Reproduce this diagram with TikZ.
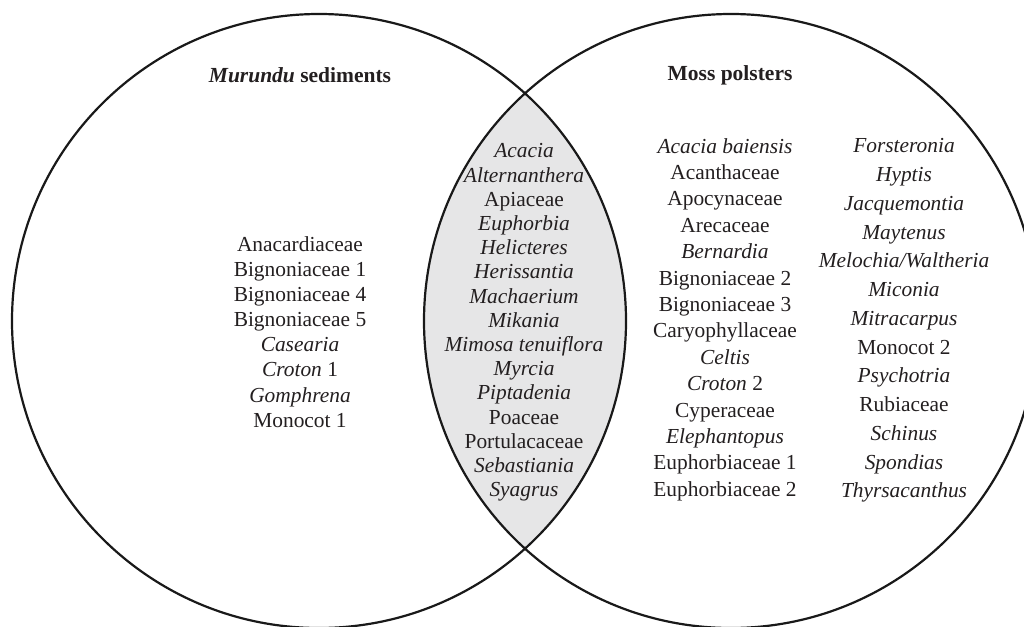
\documentclass[tikz,border=0pt]{standalone}
\usepackage{fontspec}
\setmainfont{Liberation Serif}
\definecolor{lensgray}{HTML}{E6E6E7}
\definecolor{ink}{HTML}{231F20}
\tikzset{
  ring/.style={draw=black!90, line width=2.2pt},
  listtext/.style={align=center, text=ink, inner sep=0pt},
  titletext/.style={text=ink, inner sep=0pt, font=\fontsize{21.5}{24}\selectfont\bfseries}
}
\begin{document}
\begin{tikzpicture}[x=1pt,y=-1pt]
\useasboundingbox (0,0) rectangle (1024,626);
\fill[white] (0,0) rectangle (1024,626);
\begin{scope}
  \clip (0,0) rectangle (1024,626);
  \begin{scope}
    \clip (319,321) circle (307pt);
    \fill[lensgray] (731,321) circle (307pt);
  \end{scope}
  \draw[ring] (319,321) circle (307pt);
  \draw[ring] (731,321) circle (307pt);
\end{scope}

\node[titletext] (titleL) at (300,75) {\textit{Murundu} sediments};
\node[titletext] (titleR) at (730,75) {Moss polsters};

\node[listtext, font=\fontsize{21.4}{25.1}\selectfont] (leftlist) at (300,332) {
Anacardiaceae\\ Bignoniaceae 1\\ Bignoniaceae 4\\ Bignoniaceae 5\\
\textit{Casearia}\\ \textit{Croton} 1\\ \textit{Gomphrena}\\ Monocot 1};

\node[listtext, font=\fontsize{21.4}{24.2}\selectfont] (lenslist) at (524,322.5) {
\textit{Acacia}\\ \textit{Alternanthera}\\ Apiaceae\\ \textit{Euphorbia}\\
\textit{Helicteres}\\ \textit{Herissantia}\\ \textit{Machaerium}\\ \textit{Mikania}\\
\textit{Mimosa tenuiflora}\\ \textit{Myrcia}\\ \textit{Piptadenia}\\ Poaceae\\
Portulacaceae\\ \textit{Sebastiania}\\ \textit{Syagrus}};

\node[listtext, font=\fontsize{21.4}{26.4}\selectfont] (col1) at (725,319.5) {
\textit{Acacia baiensis}\\ Acanthaceae\\ Apocynaceae\\ Arecaceae\\ \textit{Bernardia}\\
Bignoniaceae 2\\ Bignoniaceae 3\\ Caryophyllaceae\\ \textit{Celtis}\\ \textit{Croton} 2\\
Cyperaceae\\ \textit{Elephantopus}\\ Euphorbiaceae 1\\ Euphorbiaceae 2};

\node[listtext, font=\fontsize{21.4}{28.75}\selectfont] (col2) at (904,320.5) {
\textit{Forsteronia}\\ \textit{Hyptis}\\ \textit{Jacquemontia}\\ \textit{Maytenus}\\
\textit{Melochia/Waltheria}\\ \textit{Miconia}\\ \textit{Mitracarpus}\\ Monocot 2\\
\textit{Psychotria}\\ Rubiaceae\\ \textit{Schinus}\\ \textit{Spondias}\\ \textit{Thyrsacanthus}};
\end{tikzpicture}
\end{document}
